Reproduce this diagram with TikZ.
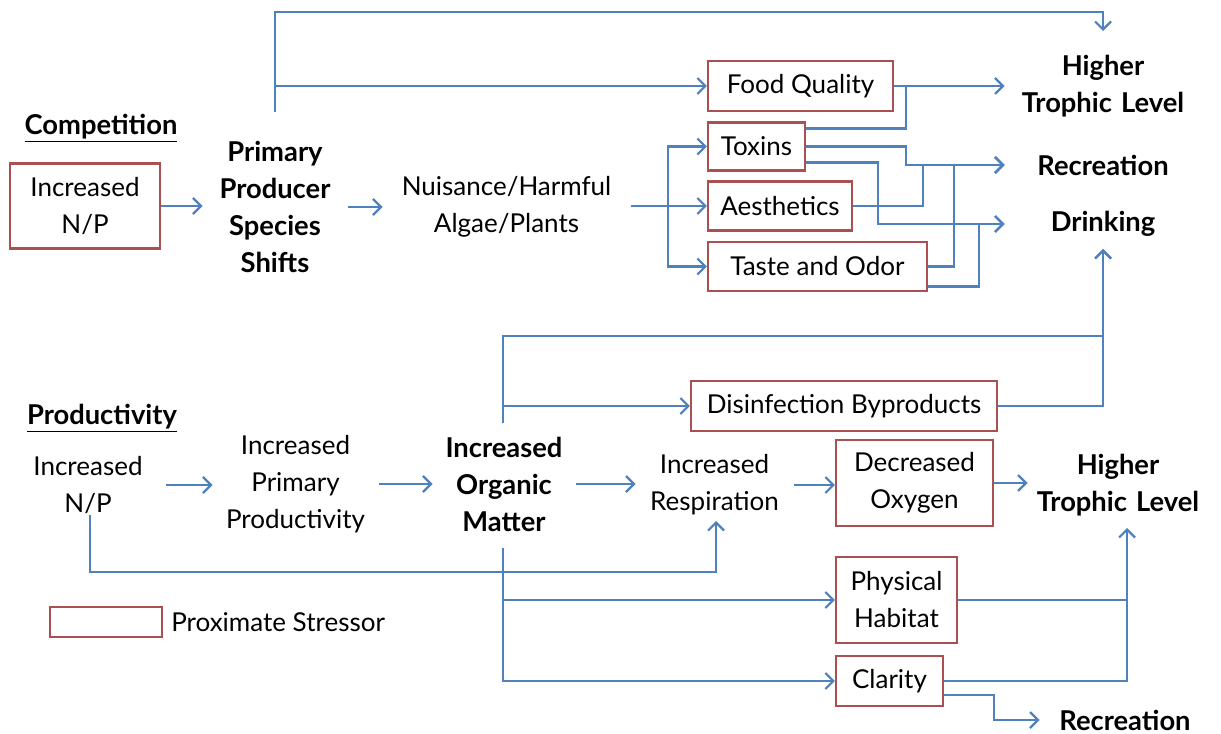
\documentclass[tikz,border=0pt]{standalone}
\usepackage{fontspec}
\setmainfont{Lato}
\usetikzlibrary{arrows.meta,calc,positioning}
\definecolor{linkblue}{RGB}{79,129,189}
\definecolor{boxred}{RGB}{170,80,80}
\newcommand{\diagfont}{\fontsize{19.5}{27.75}\selectfont}
\newcommand{\boldfont}{\fontsize{20.5}{27.75}\selectfont\bfseries}
\tikzset{every picture/.style={line width=0.75pt}}
\tikzset{
  conn/.style={draw=linkblue, line width=1.6pt},
  arr/.style={conn, -{Straight Barb[length=6pt,width=12pt]}},
  stressor/.style={draw=boxred, line width=1.8pt, fill=white, align=center, inner sep=0pt, font=\diagfont},
  lbl/.style={align=center, inner sep=0pt, font=\diagfont},
  hdl/.style={align=center, inner sep=0pt, font=\boldfont},
}

\begin{document}
\begin{tikzpicture}[x=0.75pt,y=0.75pt,yscale=-1,xscale=1]
	\useasboundingbox (0,0) rectangle (1221,734);

	% Competition
	\node[hdl] (comp) at (101,128) {\underline{Competition}};
	\node[stressor, minimum width=112.5pt, minimum height=63.75pt] (np1) at (85,206) {Increased\\N/P};
	\node[hdl, text width=108pt] (pps) at (275,207) {Primary\\Producer\\Species\\Shifts};
	\node[lbl, text width=185.25pt] (nui) at (506.5,207) {Nuisance/Harmful\\Algae/Plants};

	% Proximate stressors (top)
	\node[stressor, minimum width=138.75pt, minimum height=37.5pt] (food) at (800.5,86) {Food Quality};
	\node[stressor, minimum width=72.75pt, minimum height=36pt] (tox) at (756.5,146.5) {Toxins};
	\node[stressor, minimum width=108pt, minimum height=36.75pt] (aes) at (780,206) {Aesthetics};
	\node[stressor, minimum width=164.25pt, minimum height=36.75pt] (taste) at (817.5,266.5) {Taste and Odor};

	% Endpoints (top)
	\node[hdl, text width=147pt] (htl1) at (1103,86) {Higher\\Trophic Level};
	\node[hdl, text width=147pt] (rec1) at (1103,165) {Recreation};
	\node[hdl, text width=147pt] (drink) at (1103,224) {Drinking};

	% Productivity
	\node[hdl] (prod) at (102,418) {\underline{Productivity}};
	\node[lbl, text width=115.5pt] (np2) at (88,485) {Increased\\N/P};
	\node[lbl, text width=123.75pt] (ipp) at (295.5,484) {Increased\\Primary\\Productivity};
	\node[hdl, text width=106.5pt] (iom) at (504,484) {Increased\\Organic\\Matter};
	\node[lbl, text width=117.75pt] (resp) at (714.5,485) {Increased\\Respiration};
	\node[stressor, minimum width=117.75pt, minimum height=64.5pt] (oxy) at (914.5,483) {Decreased\\Oxygen};
	\node[hdl, text width=135pt] (htl2) at (1118,485) {Higher\\Trophic Level};
	\node[stressor, minimum width=229.5pt, minimum height=37.5pt] (disinf) at (844,406) {Disinfection Byproducts};
	\node[stressor, minimum width=90.75pt, minimum height=64.5pt] (hab) at (896.5,600) {Physical\\Habitat};
	\node[stressor, minimum width=80.25pt, minimum height=37.5pt] (clar) at (889.5,681) {Clarity};
	\node[hdl, text width=127.5pt] (rec2) at (1125,720) {Recreation};

	% Legend
	\node[stressor, minimum width=84pt, minimum height=22.5pt, line width=1.2pt] (leg) at (106,622) {};
	\node[lbl, anchor=west] (legtxt) at ($(leg.east)+(8,0)$) {Proximate Stressor};

	% Competition chain
	\draw[arr] (np1.east) -- (np1.east -| pps.west);
	\draw[arr] (pps.east) -- (nui.west);
	\coordinate (nsplit) at (668,206);
	\draw[arr] (nui.east |- aes.west) -- (aes.west);
	\draw[arr] (nsplit) |- (tox.west);
	\draw[arr] (nsplit) |- (taste.west);

	% to higher trophic level
	\coordinate (ppsup) at (275,112);
	\coordinate (rim) at (1103,12);
	\coordinate (htltop) at (1103,31);
	\draw[arr] (ppsup) |- (rim) -- (htltop);
	\draw[arr] (ppsup |- food.west) -- (food.west);
	\draw[arr] (food.east) -- (htl1.west);
	\draw[conn] ($(tox.east)+(0,-18)$) -| ($(food.east)+(12,0)$);

	% to recreation
	\draw[arr] (tox.east) -- ++(100,0) |- (rec1.west);
	\draw[arr] (aes.east) -- ++(70,0) |- (rec1.west);
	\draw[arr] (taste.east) -- ++(26,0) |- (rec1.west);

	% to drinking
	\draw[arr] ($(tox.east)+(0,16)$) -- ++(72,0) |- (drink.west);
	\draw[arr] ($(taste.east)+(0,20)$) -- ++(51,0) |- (drink.west);

	% Productivity chain
	\draw[arr] (np2.east) -- (np2.east -| ipp.west);
	\draw[arr] (ipp.east) -- (iom.west);
	\draw[arr] (iom.east) -- (iom.east -| resp.west);
	\draw[arr] (resp.east) -- (resp.east -| oxy.west);
	\draw[arr] (oxy.east) -- (oxy.east -| htl2.west);

	% organic matter to drinking
	\coordinate (iomup) at (503,423);
	\coordinate (dtop) at (1103,336);
	\coordinate (drinkbot) at (1103,249);
	\draw[arr] (iomup) |- (dtop) -- (drinkbot);
	\draw[arr] (iomup |- disinf.west) -- (disinf.west);
	\draw[arr] (disinf.east) -| (drinkbot);

	% N/P to respiration
	\coordinate (np2dn) at (90,515);
	\coordinate (respbot) at (716,521);
	\draw[arr] (np2dn) |- ($(respbot)+(0,51)$) -- (respbot);

	% organic matter to habitat and clarity
	\coordinate (iomdn) at (503,548);
	\coordinate (htl2bot) at (1127,528);
	\draw[arr] (iomdn) |- (clar.west);
	\draw[arr] (iomdn |- hab.west) -- (hab.west);
	\draw[arr] (clar.east) -| (htl2bot);
	\draw[conn] (hab.east) -- (hab.east -| htl2bot);
	\draw[arr] ($(clar.east)+(0,14)$) -- ++(50,0) |- (rec2.west);

\end{tikzpicture}
\end{document}
